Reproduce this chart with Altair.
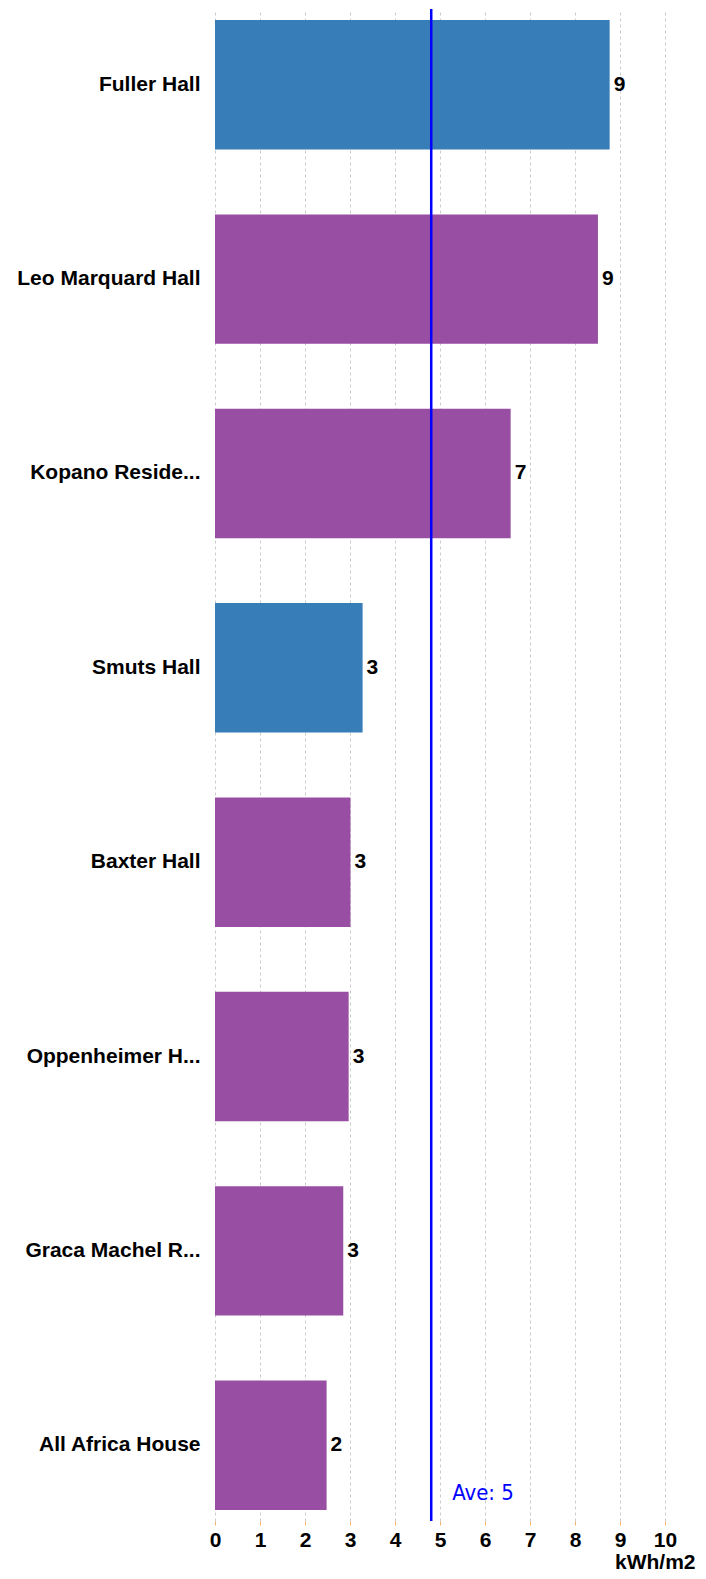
import altair as alt
import pandas as pd

names = ["Fuller Hall", "Leo Marquard Hall", "Kopano Reside...", "Smuts Hall",
         "Baxter Hall", "Oppenheimer H...", "Graca Machel R...", "All Africa House"]
values = [8.77, 8.51, 6.57, 3.28, 3.01, 2.97, 2.85, 2.48]
groups = ["A", "B", "B", "A", "B", "B", "B", "B"]
x_ticks = [0, 1, 2, 3, 4, 5, 6, 7, 8, 9, 10]

df = pd.DataFrame({"name": names, "value": values, "group": groups})

FONT = "Liberation Sans"

base = alt.Chart(df)

y_enc = alt.Y("name:N", sort=names, title=None,
              scale=alt.Scale(paddingInner=0.334, paddingOuter=0.057),
              axis=alt.Axis(labelFont=FONT, labelFontSize=21, labelFontWeight="bold",
                            labelColor="#000", labelPadding=15, ticks=False, domain=False,
                            labelLimit=400, grid=False))

x_enc = alt.X("value:Q", scale=alt.Scale(domain=[0, 10], nice=False),
              axis=alt.Axis(values=x_ticks, format="d", title="kWh/m2",
                            labelFont=FONT, labelFontSize=21, labelFontWeight="bold",
                            labelColor="#000", labelPadding=4, labelFlush=False,
                            labelOverlap=False,
                            tickSize=4, tickColor="#f7b36b", domain=False,
                            grid=True, gridColor="#cccccc", gridDash=[3, 3], gridWidth=1,
                            titleFont=FONT, titleFontSize=21, titleFontWeight="bold",
                            titleColor="#000", titleAlign="right", titleAnchor="end",
                            titleX=480, titleY=47, titleBaseline="alphabetic"))

bars = base.mark_bar().encode(
    x=x_enc,
    y=y_enc,
    color=alt.Color("group:N", scale=alt.Scale(domain=["A", "B"], range=["#377eb8", "#984ea3"]),
                    legend=None),
)

labels = base.mark_text(align="left", baseline="middle", dx=4, font=FONT,
                        fontSize=21, fontWeight="bold", color="#000").encode(
    x="value:Q",
    y=alt.Y("name:N", sort=names),
    text=alt.Text("value:Q", format=".0f"),
)

avg = base.transform_aggregate(avg="mean(value)")

rule = avg.mark_rule(color="#0000ff", strokeWidth=2.5).encode(x="avg:Q")

avg_text = avg.transform_calculate(
    lbl="'Ave: ' + format(datum.avg, '.0f')"
).mark_text(align="left", baseline="alphabetic", dx=21, font="DejaVu Sans Condensed",
            fontSize=22, color="#0000ff").encode(
    x="avg:Q",
    y=alt.value(1491),
    text="lbl:N",
)

chart = alt.layer(bars, labels, rule, avg_text).properties(
    width=450,
    height=1512,
    autosize=alt.AutoSizeParams(type="none"),
    padding={"left": 207, "top": 1, "right": 33, "bottom": 50},
).configure_view(stroke=None)

chart.save("out.html", embed_options={"renderer": "svg", "actions": False})
